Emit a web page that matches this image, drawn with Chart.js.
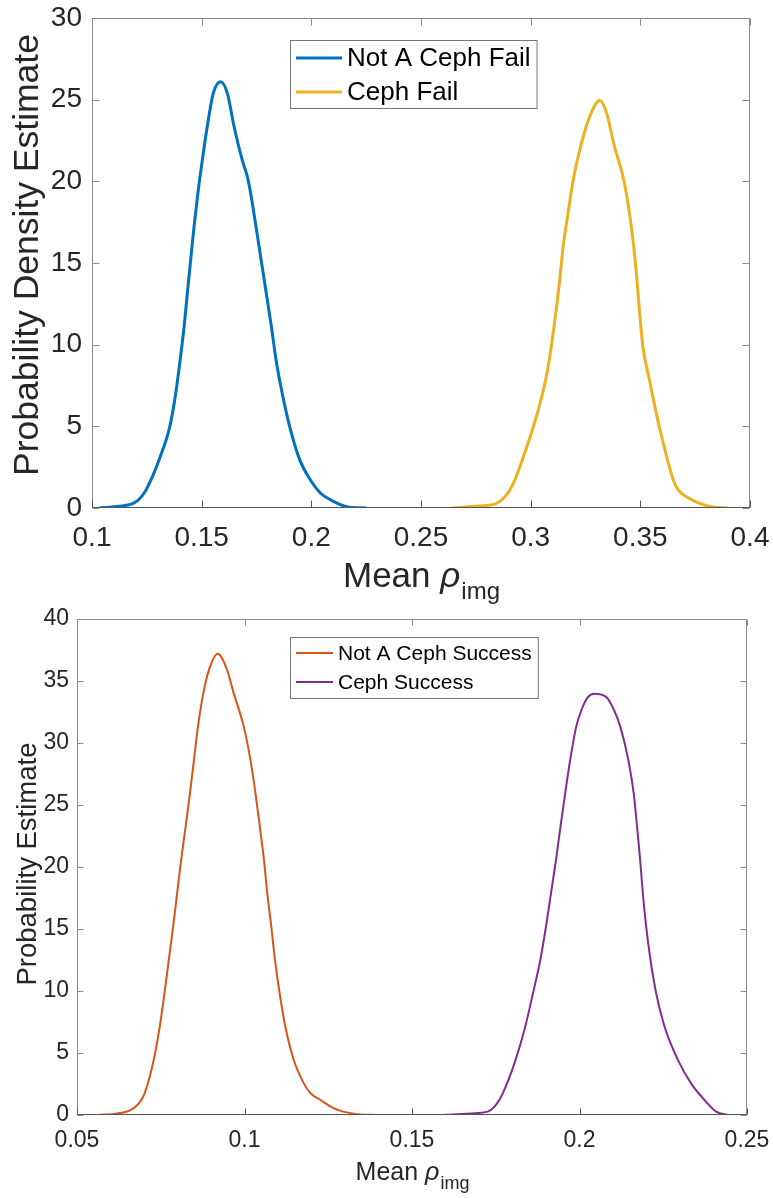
<!DOCTYPE html>
<html><head><meta charset="utf-8">
<script src="https://cdn.jsdelivr.net/npm/chart.js@4.4.1/dist/chart.umd.min.js"></script>
<style>
html,body{margin:0;padding:0;background:#fff;}
#wrap{position:relative;width:773px;height:1198px;overflow:hidden;background:#fff;}
canvas{position:absolute;left:0;}
</style></head><body>
<div id="wrap">
<canvas id="c1" width="773" height="614" style="top:0"></canvas>
<canvas id="c2" width="773" height="608" style="top:590px"></canvas>
</div>
<script>
// ---------- data ----------
const failLabels = ['Not A Ceph Fail', 'Ceph Fail'];
const notCephFailX = [0.1033,0.110,0.1192,0.1238,0.1276,0.1306,0.1355,0.1382,0.1402,0.142,0.1435,0.145,0.1465,0.1483,0.1503,0.1526,0.1553,0.1586,0.1617,0.1647,0.1685,0.1708,0.1723,0.1748,0.1771,0.1794,0.1818,0.1839,0.1867,0.1901,0.1947,0.1995,0.2041,0.2086,0.2161,0.2252];
const notCephFailY = [0,0.08,0.31,0.92,1.94,2.96,5.0,7.04,9.08,11.1,13.2,15.2,17.2,19.3,21.3,23.4,25.4,26.1,25.4,23.4,21.3,20.3,19.3,17.2,15.2,13.2,11.1,9.08,7.04,5.0,2.96,1.73,0.92,0.51,0.08,0];
const cephFailX = [0.264,0.2742,0.2841,0.2894,0.2927,0.2982,0.303,0.3068,0.3094,0.3114,0.3132,0.3148,0.317,0.3194,0.3227,0.3273,0.3315,0.3348,0.3379,0.3424,0.3451,0.347,0.3485,0.3497,0.3512,0.3542,0.3573,0.3609,0.3651,0.3674,0.3712,0.3773,0.3830,0.390];
const cephFailY = [0,0.1,0.27,0.88,1.69,3.73,5.78,7.82,9.86,11.9,13.9,16.0,18.0,20.1,22.1,24.1,24.96,24.1,22.3,20.1,18.0,16.0,13.9,11.9,9.86,7.82,5.78,3.73,1.69,1.08,0.67,0.27,0.06,0];

const successLabels = ['Not A Ceph Success', 'Ceph Success'];
const notCephSuccessX = [0.0565,0.062,0.066,0.0685,0.0702,0.0729,0.0747,0.0761,0.0774,0.0787,0.0799,0.0811,0.0824,0.0837,0.0849,0.0861,0.0877,0.0894,0.092,0.0948,0.0968,0.0998,0.1018,0.1033,0.1046,0.1058,0.1068,0.108,0.1091,0.1105,0.1122,0.1147,0.1177,0.1197,0.1227,0.1267,0.1295,0.1345,0.1395];
const notCephSuccessY = [0,0.13,0.40,0.94,1.75,4.43,7.12,9.8,12.5,15.2,17.9,20.6,23.2,25.9,28.6,31.3,34.0,35.9,37.2,35.9,34.0,31.3,28.6,25.9,23.2,20.6,17.9,15.2,12.5,9.8,7.12,4.43,2.55,1.75,1.21,0.54,0.27,0.05,0];
const cephSuccessX = [0.1592,0.1677,0.1726,0.1754,0.1771,0.1809,0.1838,0.1861,0.1883,0.19,0.1915,0.193,0.1943,0.1957,0.1972,0.199,0.2005,0.2025,0.2045,0.208,0.2104,0.2122,0.2146,0.2162,0.2172,0.2181,0.2189,0.2199,0.2212,0.2229,0.2254,0.2294,0.2333,0.2373,0.2408,0.2445];
const cephSuccessY = [0,0.13,0.27,0.94,1.75,4.43,7.12,9.8,12.5,15.2,17.9,20.6,23.2,25.9,28.6,31.3,32.6,33.7,33.98,33.7,32.6,31.3,28.6,25.9,23.2,20.6,17.9,15.2,12.5,9.8,7.12,4.43,2.55,1.21,0.27,0];

const xTicksTop = ['0.1','0.15','0.2','0.25','0.3','0.35','0.4'];
const yTicksTop = ['0','5','10','15','20','25','30'];
const xTicksBottom = ['0.05','0.1','0.15','0.2','0.25'];
const yTicksBottom = ['0','5','10','15','20','25','30','35','40'];

const yTitleTop = 'Probability Density Estimate';
const yTitleBottom = 'Probability Estimate';
const xTitleMain = 'Mean ';
const xTitleSymbol = 'ρ';
const xTitleSub = 'img';

// ---------- helpers ----------
const FONT = '"Liberation Sans", Arial, Helvetica, sans-serif';
const TXT = '#262626';
function pts(xs, ys){ return xs.map((x,i)=>({x:x, y:ys[i]})); }

const matlabAxes = {
  id: 'matlabAxes',
  afterDatasetsDraw(chart, args, o) {
    const ctx = chart.ctx, a = chart.chartArea, xs = chart.scales.x, ys = chart.scales.y;
    const L = Math.round(a.left) + 0.5, R = Math.round(a.right) - 0.5;
    const T = Math.round(a.top) + 0.5, B = Math.round(a.bottom) - 0.5;
    ctx.save();
    ctx.lineWidth = 1;
    const line = (x1,y1,x2,y2,c)=>{ ctx.strokeStyle=c; ctx.beginPath(); ctx.moveTo(x1,y1); ctx.lineTo(x2,y2); ctx.stroke(); };
    // box
    line(L,T,R,T,o.boxColor); line(R,T,R,B,o.boxColor); line(L,T,L,B,o.boxColor); line(L-0.5,B,R+0.5,B,o.axisColor);
    // inward ticks
    xs.ticks.forEach((t,i)=>{ const p = Math.round(xs.getPixelForTick(i)) + 0.5;
      line(p,B,p,B-o.tickLen,o.axisColor); line(p,T,p,T+o.tickLen,o.boxColor); });
    ys.ticks.forEach((t,i)=>{ const p = Math.round(ys.getPixelForTick(i)) + 0.5;
      line(L,p,L+o.tickLen,p,o.boxColor); line(R,p,R-o.tickLen,p,o.boxColor); });
    // x title with subscript
    ctx.fillStyle = TXT; ctx.textBaseline = 'alphabetic'; ctx.textAlign = 'left';
    const f1 = `${o.titleSize}px ${FONT}`, f2 = `italic ${o.titleSize}px ${FONT}`, f3 = `${o.subSize}px ${FONT}`;
    ctx.font = f1; const w1 = ctx.measureText(xTitleMain).width;
    ctx.font = f2; const w2 = ctx.measureText(xTitleSymbol).width;
    ctx.font = f3; const w3 = ctx.measureText(xTitleSub).width;
    let x0 = (a.left + a.right)/2 - (w1+w2+w3)/2;
    ctx.font = f1; ctx.fillText(xTitleMain, x0, o.xTitleBase);
    ctx.font = f2; ctx.fillText(xTitleSymbol, x0 + w1, o.xTitleBase);
    ctx.font = f3; ctx.fillText(xTitleSub, x0 + w1 + w2 + 1, o.xTitleBase + o.subDy);
    // y title
    ctx.save();
    ctx.translate(o.yTitleBase, (a.top + a.bottom)/2 + o.yTitleDy);
    ctx.rotate(-Math.PI/2);
    ctx.textAlign = 'center'; ctx.font = `${o.yTitleSize}px ${FONT}`;
    ctx.fillText(o.yTitle, 0, 0);
    ctx.restore();
    // legend
    const lg = o.legend;
    ctx.font = `${lg.size}px ${FONT}`;
    const ds = chart.data.datasets;
    const maxW = Math.max(...ds.map(d=>ctx.measureText(d.label).width));
    const w = lg.textX - lg.x + maxW + lg.padR;
    ctx.fillStyle = '#fff'; ctx.fillRect(lg.x, lg.y, w, lg.h);
    ctx.strokeStyle = lg.border; ctx.lineWidth = 1; ctx.strokeRect(lg.x + 0.5, lg.y + 0.5, w, lg.h);
    ds.forEach((d,i)=>{
      const yy = lg.rows[i];
      ctx.lineWidth = d.borderWidth; line(lg.lineX0, yy, lg.lineX1, yy, d.borderColor);
      ctx.fillStyle = '#000'; ctx.textBaseline = 'middle'; ctx.textAlign = 'left';
      ctx.fillText(d.label, lg.textX, yy + 1);
    });
    ctx.restore();
  }
};

function makeChart(id, cfg) {
  return new Chart(document.getElementById(id), {
    type: 'line',
    data: { datasets: cfg.series.map(s=>({
      label: s.label, data: pts(s.x, s.y), borderColor: s.color, borderWidth: cfg.lw,
      pointRadius: 0, fill: false, cubicInterpolationMode: 'monotone'
    })) },
    options: {
      responsive: false, animation: false, events: [],
      layout: { autoPadding: false, padding: { top: cfg.top, right: cfg.right, left: 0, bottom: 0 } },
      plugins: { legend: { display: false }, tooltip: { enabled: false }, matlabAxes: cfg.axes },
      scales: {
        x: { type: 'linear', min: cfg.xmin, max: cfg.xmax,
             afterBuildTicks: s => { s.ticks = cfg.xTicks.map(t=>({value: parseFloat(t)})); },
             ticks: { callback: (v,i)=>cfg.xTicks[i], color: TXT, font: { family: FONT, size: cfg.tickSize }, padding: cfg.xPad, maxRotation: 0, autoSkip: false },
             grid: { display: false, drawTicks: false }, border: { display: false },
             afterFit: s => { s.height = cfg.xHeight; s.paddingLeft = 0; s.paddingRight = 0; } },
        y: { type: 'linear', min: cfg.ymin, max: cfg.ymax,
             afterBuildTicks: s => { s.ticks = cfg.yTicks.map(t=>({value: parseFloat(t)})); },
             ticks: { callback: (v,i)=>cfg.yTicks[i], color: TXT, font: { family: FONT, size: cfg.tickSize }, padding: cfg.yPad, autoSkip: false },
             grid: { display: false, drawTicks: false }, border: { display: false },
             afterFit: s => { s.width = cfg.yWidth; s.paddingTop = 0; s.paddingBottom = 0; } }
      }
    },
    plugins: [matlabAxes]
  });
}

makeChart('c1', {
  series: [
    { label: failLabels[0], x: notCephFailX, y: notCephFailY, color: '#0072BD' },
    { label: failLabels[1], x: cephFailX, y: cephFailY, color: '#EDB120' }
  ],
  lw: 3, top: 18, right: 23, xHeight: 106, yWidth: 92,
  xmin: 0.1, xmax: 0.4, ymin: 0, ymax: 30, xTicks: xTicksTop, yTicks: yTicksTop,
  tickSize: 28, xPad: 13, yPad: 10,
  axes: { boxColor: '#8a8a8a', axisColor: '#555', tickLen: 7,
    titleSize: 35, subSize: 24, subDy: 12, xTitleBase: 587,
    yTitle: yTitleTop, yTitleSize: 35.5, yTitleBase: 38, yTitleDy: -8,
    legend: { x: 290, y: 40, h: 68, size: 26, lineX0: 296, lineX1: 342, textX: 347, padR: 6, rows: [58, 92], border: '#777' } }
});

makeChart('c2', {
  series: [
    { label: successLabels[0], x: notCephSuccessX, y: notCephSuccessY, color: '#D95319' },
    { label: successLabels[1], x: cephSuccessX, y: cephSuccessY, color: '#7E2F8E' }
  ],
  lw: 2, top: 29, right: 26, xHeight: 83, yWidth: 77,
  xmin: 0.05, xmax: 0.25, ymin: 0, ymax: 40, xTicks: xTicksBottom, yTicks: yTicksBottom,
  tickSize: 23, xPad: 12, yPad: 8,
  axes: { boxColor: '#8a8a8a', axisColor: '#555', tickLen: 6,
    titleSize: 25, subSize: 18, subDy: 9, xTitleBase: 590,
    yTitle: yTitleBottom, yTitleSize: 27.5, yTitleBase: 36, yTitleDy: -3,
    legend: { x: 290, y: 47, h: 61, size: 21, lineX0: 296, lineX1: 333, textX: 338, padR: 6, rows: [63, 92], border: '#777' } }
});
</script>
</body></html>
